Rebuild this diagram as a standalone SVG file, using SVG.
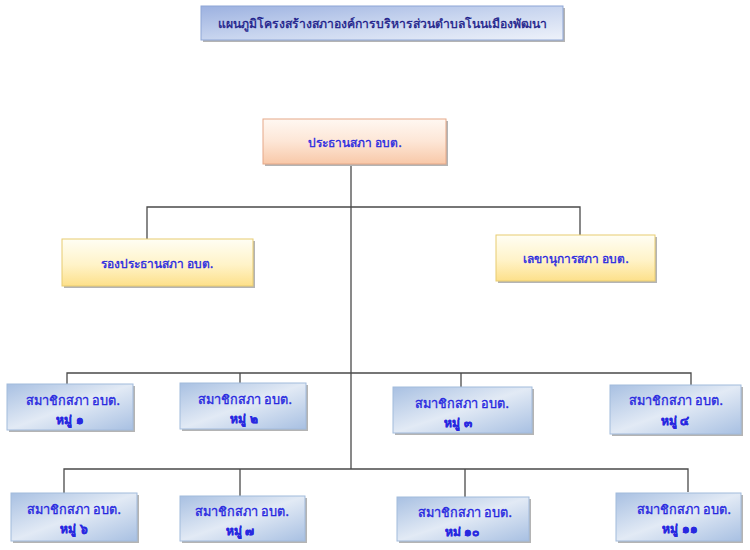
<svg xmlns="http://www.w3.org/2000/svg" width="750" height="550" viewBox="0 0 750 550">
<defs>
<linearGradient id="gTitle" x1="0" y1="0" x2="1" y2="1">
<stop offset="0" stop-color="#9cb1e0"/>
<stop offset="0.5" stop-color="#c8d5ef"/>
<stop offset="1" stop-color="#eef2fa"/>
</linearGradient>
<linearGradient id="gPeach" x1="0" y1="0" x2="0" y2="1">
<stop offset="0" stop-color="#fff8f2"/>
<stop offset="0.5" stop-color="#fde6d6"/>
<stop offset="1" stop-color="#f8c8a8"/>
</linearGradient>
<linearGradient id="gYellow" x1="0" y1="0" x2="0" y2="1">
<stop offset="0" stop-color="#fffef4"/>
<stop offset="0.55" stop-color="#fff3c8"/>
<stop offset="1" stop-color="#fde08a"/>
</linearGradient>
<linearGradient id="gBlue" x1="0" y1="0" x2="1" y2="1">
<stop offset="0" stop-color="#a8c0e2"/>
<stop offset="0.5" stop-color="#e2eaf5"/>
<stop offset="1" stop-color="#a8c0e2"/>
</linearGradient>
</defs>
<style>
.sh{fill:#b4b4b4;}
.title{fill:url(#gTitle);stroke:#8ea6d6;stroke-width:1;}
.peach{fill:url(#gPeach);stroke:#e6a888;stroke-width:1;}
.yel{fill:url(#gYellow);stroke:#e8cc70;stroke-width:1;}
.blu{fill:url(#gBlue);stroke:#a2bbdc;stroke-width:1;}
text{font-family:"Noto Sans","Liberation Sans",sans-serif;text-anchor:middle;fill:#2828e0;stroke:#2828e0;stroke-width:0.35;}
.tt{font-size:12.2px;fill:#1c1c8a;stroke:#1c1c8a;}
.lb{font-size:12px;}
.lm{font-size:12.7px;}
.l2{font-size:12px;font-weight:bold;}
.ln{stroke:#4a4a4a;stroke-width:1.3;fill:none;}
</style>

<g id="connectors">
<path class="ln" d="M351 164 V469"/>
<path class="ln" d="M147 239 V207 H580 V235"/>
<path class="ln" d="M67 384 V373 H691 V385"/>
<path class="ln" d="M240 373 V383"/>
<path class="ln" d="M461 373 V387"/>
<path class="ln" d="M64 493 V469 H688 V492"/>
<path class="ln" d="M240 469 V496"/>
<path class="ln" d="M465 469 V497"/>
</g>

<g id="title">
<rect class="sh" x="203" y="8" width="362" height="34"/>
<rect class="title" x="201" y="6" width="362" height="34"/>
<text class="tt" x="382" y="28">แผนภูมิโครงสร้างสภาองค์การบริหารส่วนตำบลโนนเมืองพัฒนา</text>
</g>

<g id="chairman">
<rect class="sh" x="265" y="121" width="183" height="45"/>
<rect class="peach" x="263" y="119" width="183" height="45"/>
<text class="lb" x="355" y="147">ประธานสภา อบต.</text>
</g>

<g id="vice">
<rect class="sh" x="64" y="241" width="191" height="47"/>
<rect class="yel" x="62" y="239" width="191" height="47"/>
<text class="lb" x="157" y="268">รองประธานสภา อบต.</text>
</g>

<g id="secretary">
<rect class="sh" x="498" y="237" width="159" height="46"/>
<rect class="yel" x="496" y="235" width="159" height="46"/>
<text class="lb" x="576" y="263">เลขานุการสภา อบต.</text>
</g>

<g id="m1">
<rect class="sh" x="9" y="386" width="126" height="46"/>
<rect class="blu" x="7" y="384" width="126" height="46"/>
<text class="lm" x="73" y="405">สมาชิกสภา อบต.</text>
<text class="l2" x="70" y="424">หมู่ ๑</text>
</g>

<g id="m2">
<rect class="sh" x="182" y="385" width="126" height="46"/>
<rect class="blu" x="180" y="383" width="126" height="46"/>
<text class="lm" x="245" y="404">สมาชิกสภา อบต.</text>
<text class="l2" x="244" y="423">หมู่ ๒</text>
</g>

<g id="m3">
<rect class="sh" x="395" y="389" width="139" height="46"/>
<rect class="blu" x="393" y="387" width="139" height="46"/>
<text class="lm" x="462" y="408">สมาชิกสภา อบต.</text>
<text class="l2" x="458" y="427">หมู่ ๓</text>
</g>

<g id="m4">
<rect class="sh" x="612" y="387" width="131" height="49"/>
<rect class="blu" x="610" y="385" width="131" height="49"/>
<text class="lm" x="676" y="405">สมาชิกสภา อบต.</text>
<text class="l2" x="675" y="425">หมู่ ๔</text>
</g>

<g id="m6">
<rect class="sh" x="13" y="495" width="126" height="48"/>
<rect class="blu" x="11" y="493" width="126" height="48"/>
<text class="lm" x="74" y="514">สมาชิกสภา อบต.</text>
<text class="l2" x="74" y="533">หมู่ ๖</text>
</g>

<g id="m7">
<rect class="sh" x="182" y="498" width="125" height="45"/>
<rect class="blu" x="180" y="496" width="125" height="45"/>
<text class="lm" x="242" y="516">สมาชิกสภา อบต.</text>
<text class="l2" x="240" y="535">หมู่ ๗</text>
</g>

<g id="m10">
<rect class="sh" x="399" y="499" width="132" height="44"/>
<rect class="blu" x="397" y="497" width="132" height="44"/>
<text class="lm" x="465" y="517">สมาชิกสภา อบต.</text>
<text class="l2" x="462" y="536">หม่ ๑๐</text>
</g>

<g id="m11">
<rect class="sh" x="618" y="495" width="125" height="48"/>
<rect class="blu" x="616" y="493" width="125" height="48"/>
<text class="lm" x="684" y="514">สมาชิกสภา อบต.</text>
<text class="l2" x="680" y="533">หมู่ ๑๑</text>
</g>
</svg>
